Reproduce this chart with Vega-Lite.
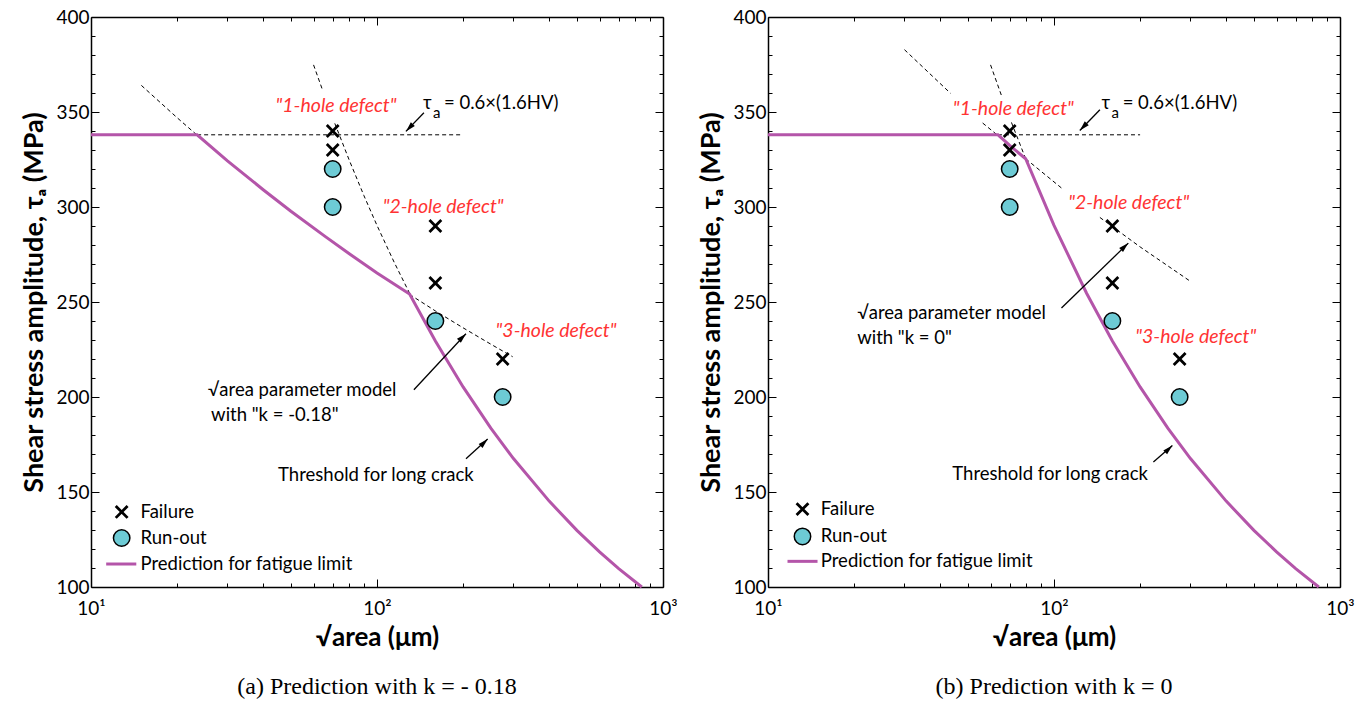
{
"$schema":"https://vega.github.io/schema/vega-lite/v6.json",
"padding":{"left":20,"top":8,"right":5,"bottom":5},
"spacing":105,
"bounds":"flush",
"config":{"font":"Lato","view":{"stroke":null},"axis":{"grid":false}},
"datasets":{
"curves":[
{"p":"a","s":"pred","g":"ap","x":10,"y":338},{"p":"a","s":"pred","g":"ap","x":23.5,"y":338},{"p":"a","s":"pred","g":"ap","x":30,"y":324.3},{"p":"a","s":"pred","g":"ap","x":40,"y":309.1},{"p":"a","s":"pred","g":"ap","x":50,"y":297.8},{"p":"a","s":"pred","g":"ap","x":66,"y":284.4},{"p":"a","s":"pred","g":"ap","x":80,"y":275.4},{"p":"a","s":"pred","g":"ap","x":100,"y":265.3},{"p":"a","s":"pred","g":"ap","x":130,"y":254.2},{"p":"a","s":"pred","g":"ap","x":160,"y":229.5},{"p":"a","s":"pred","g":"ap","x":200,"y":205.3},{"p":"a","s":"pred","g":"ap","x":250,"y":183.6},{"p":"a","s":"pred","g":"ap","x":300,"y":167.6},{"p":"a","s":"pred","g":"ap","x":400,"y":145.2},{"p":"a","s":"pred","g":"ap","x":500,"y":129.8},{"p":"a","s":"pred","g":"ap","x":600,"y":118.5},{"p":"a","s":"pred","g":"ap","x":700,"y":109.7},{"p":"a","s":"pred","g":"ap","x":843,"y":100},
{"p":"a","s":"pred","g":"al","x":11.3,"y":112.1},{"p":"a","s":"pred","g":"al","x":14.4,"y":112.1},
{"p":"a","s":"dash","g":"ad1","x":15,"y":364},{"p":"a","s":"dash","g":"ad1","x":20,"y":347},{"p":"a","s":"dash","g":"ad1","x":23.5,"y":337.8},
{"p":"a","s":"dash","g":"ah","x":23.5,"y":338},{"p":"a","s":"dash","g":"ah","x":200,"y":338},
{"p":"a","s":"dash","g":"alc1","x":60,"y":374.8},{"p":"a","s":"dash","g":"alc1","x":64.7,"y":361},
{"p":"a","s":"dash","g":"alc2","x":71.2,"y":344},{"p":"a","s":"dash","g":"alc2","x":80,"y":324.6},{"p":"a","s":"dash","g":"alc2","x":90,"y":306},{"p":"a","s":"dash","g":"alc2","x":100,"y":290.3},{"p":"a","s":"dash","g":"alc2","x":115,"y":270.7},{"p":"a","s":"dash","g":"alc2","x":130,"y":254.6},
{"p":"a","s":"dash","g":"ak2","x":130,"y":254},{"p":"a","s":"dash","g":"ak2","x":160,"y":245.3},{"p":"a","s":"dash","g":"ak2","x":200,"y":236.4},{"p":"a","s":"dash","g":"ak2","x":250,"y":227.8},{"p":"a","s":"dash","g":"ak2","x":298,"y":221.2},
{"p":"b","s":"pred","g":"bp","x":10,"y":338},{"p":"b","s":"pred","g":"bp","x":63.7,"y":338},{"p":"b","s":"pred","g":"bp","x":70,"y":332.4},{"p":"b","s":"pred","g":"bp","x":79.6,"y":325.4},{"p":"b","s":"pred","g":"bp","x":100,"y":290.3},{"p":"b","s":"pred","g":"bp","x":130,"y":254.6},{"p":"b","s":"pred","g":"bp","x":160,"y":229.5},{"p":"b","s":"pred","g":"bp","x":200,"y":205.3},{"p":"b","s":"pred","g":"bp","x":250,"y":183.6},{"p":"b","s":"pred","g":"bp","x":300,"y":167.6},{"p":"b","s":"pred","g":"bp","x":400,"y":145.2},{"p":"b","s":"pred","g":"bp","x":500,"y":129.8},{"p":"b","s":"pred","g":"bp","x":600,"y":118.5},{"p":"b","s":"pred","g":"bp","x":700,"y":109.7},{"p":"b","s":"pred","g":"bp","x":843,"y":100},
{"p":"b","s":"pred","g":"bl","x":11.7,"y":113.5},{"p":"b","s":"pred","g":"bl","x":14.9,"y":113.5},
{"p":"b","s":"dash","g":"bk1","x":30,"y":382.8},{"p":"b","s":"dash","g":"bk1","x":43.5,"y":359.8},
{"p":"b","s":"dash","g":"bk2","x":56.3,"y":344.2},{"p":"b","s":"dash","g":"bk2","x":63.7,"y":337.6},{"p":"b","s":"dash","g":"bk2","x":79.6,"y":325.4},{"p":"b","s":"dash","g":"bk2","x":107.6,"y":309.3},
{"p":"b","s":"dash","g":"bk3","x":144.7,"y":294.5},{"p":"b","s":"dash","g":"bk3","x":200,"y":279},{"p":"b","s":"dash","g":"bk3","x":299,"y":261},
{"p":"b","s":"dash","g":"bh","x":63.7,"y":338},{"p":"b","s":"dash","g":"bh","x":200,"y":338},
{"p":"b","s":"dash","g":"blc1","x":60,"y":374.8},{"p":"b","s":"dash","g":"blc1","x":65.5,"y":358.7},
{"p":"b","s":"dash","g":"blc2","x":71,"y":344.5},{"p":"b","s":"dash","g":"blc2","x":79.6,"y":325.4}
],
"arrows":[
{"p":"a","g":"at","x":145.9,"y":349.6},{"p":"a","g":"at","x":126.2,"y":339.8,"h":"dl"},
{"p":"a","g":"am","x":134.6,"y":203.8},{"p":"a","g":"am","x":204.7,"y":233.3,"h":"ur"},
{"p":"a","g":"ath","x":204.7,"y":167.5},{"p":"a","g":"ath","x":243.8,"y":177.9,"h":"ur"},
{"p":"b","g":"bt","x":144.7,"y":351.2},{"p":"b","g":"bt","x":123.1,"y":340.3,"h":"dl"},
{"p":"b","g":"bm","x":106.2,"y":246.8},{"p":"b","g":"bm","x":181.9,"y":281,"h":"ur"},
{"p":"b","g":"bth","x":222.6,"y":165.8},{"p":"b","g":"bth","x":259.4,"y":174.5,"h":"ur"}
],
"pts":[
{"p":"a","t":"Failure","x":70,"y":340},{"p":"a","t":"Failure","x":70,"y":330},{"p":"a","t":"Failure","x":160,"y":290},{"p":"a","t":"Failure","x":160,"y":260},{"p":"a","t":"Failure","x":275,"y":220},
{"p":"a","t":"Run-out","x":70,"y":320},{"p":"a","t":"Run-out","x":70,"y":300},{"p":"a","t":"Run-out","x":160,"y":240},{"p":"a","t":"Run-out","x":275,"y":200},
{"p":"a","t":"Failure","x":12.8,"y":139.5},{"p":"a","t":"Run-out","x":12.8,"y":125.8},
{"p":"b","t":"Failure","x":70,"y":340},{"p":"b","t":"Failure","x":70,"y":330},{"p":"b","t":"Failure","x":160,"y":290},{"p":"b","t":"Failure","x":160,"y":260},{"p":"b","t":"Failure","x":275,"y":220},
{"p":"b","t":"Run-out","x":70,"y":320},{"p":"b","t":"Run-out","x":70,"y":300},{"p":"b","t":"Run-out","x":160,"y":240},{"p":"b","t":"Run-out","x":275,"y":200},
{"p":"b","t":"Failure","x":13.2,"y":141},{"p":"b","t":"Run-out","x":13.2,"y":126.6}
],
"texts":[
{"p":"a","k":"black","t":"Threshold for long crack","x":45.1,"y":159.1},
{"p":"a","k":"black","t":"√area parameter model","x":25.6,"y":203.8},
{"p":"a","k":"black","t":"with \"k = -0.18\"","x":26.3,"y":190.7},
{"p":"a","k":"black","t":"τ","x":144.8,"y":354.9},
{"p":"a","k":"black","t":"= 0.6×(1.6HV)","x":171.5,"y":354.9},
{"p":"a","k":"sub","t":"a","x":157,"y":349.6},
{"p":"a","k":"black","t":"Failure","x":14.9,"y":139.5},
{"p":"a","k":"black","t":"Run-out","x":14.9,"y":125.8},
{"p":"a","k":"black","t":"Prediction for fatigue limit","x":14.9,"y":112.1},
{"p":"a","k":"red","t":"\"1-hole defect\"","x":71.9,"y":353.3},
{"p":"a","k":"red","t":"\"2-hole defect\"","x":170.3,"y":300.2},
{"p":"a","k":"red","t":"\"3-hole defect\"","x":422.7,"y":234.9},
{"p":"b","k":"black","t":"Threshold for long crack","x":44.1,"y":159.6},
{"p":"b","k":"black","t":"√area parameter model","x":20.5,"y":244.2},
{"p":"b","k":"black","t":"with \"k = 0\"","x":20.5,"y":231.1},
{"p":"b","k":"black","t":"τ","x":146.7,"y":354.9},
{"p":"b","k":"black","t":"= 0.6×(1.6HV)","x":173.8,"y":354.9},
{"p":"b","k":"sub","t":"a","x":159,"y":349.6},
{"p":"b","k":"black","t":"Failure","x":15.3,"y":141},
{"p":"b","k":"black","t":"Run-out","x":15.3,"y":126.6},
{"p":"b","k":"black","t":"Prediction for fatigue limit","x":15.3,"y":113.5},
{"p":"b","k":"red","t":"\"1-hole defect\"","x":72.1,"y":351.7},
{"p":"b","k":"red","t":"\"2-hole defect\"","x":182.4,"y":302},
{"p":"b","k":"red","t":"\"3-hole defect\"","x":313,"y":231.5}
]
},
"hconcat":[
{"width":572,"height":570,
"title":{"text":"(a) Prediction with k = - 0.18","orient":"bottom","font":"Liberation Serif","fontSize":24,"fontWeight":"normal","color":"black","offset":25},
"resolve":{"axis":{"x":"independent","y":"independent"}},
"layer":[
{"data":{"name":"curves"},"transform":[{"filter":"datum.p=='a' && datum.s=='dash'"}],"mark":{"type":"line","color":"black","strokeWidth":1,"strokeDash":[4,3]},"encoding":{"x":{"field":"x","type":"quantitative","scale":{"type":"log","domain":[10,1000]},"axis":null},"y":{"field":"y","type":"quantitative","scale":{"domain":[100,400]},"axis":null},"detail":{"field":"g"}}},
{"data":{"name":"curves"},"transform":[{"filter":"datum.p=='a' && datum.s=='pred'"}],"mark":{"type":"line","color":"#B455A9","strokeWidth":3},"encoding":{
"x":{"field":"x","type":"quantitative","scale":{"type":"log","domain":[10,1000]},"axis":{"orient":"bottom","values":[10,20,30,40,50,60,70,80,90,100,200,300,400,500,600,700,800,900,1000],"labelExpr":"datum.value==10?'10¹':datum.value==100?'10²':datum.value==1000?'10³':''","tickSize":{"condition":{"test":"datum.value==10||datum.value==100||datum.value==1000","value":-8},"value":-4},"tickColor":"black","domainColor":"black","domainWidth":1.5,"labelFontSize":19,"labelColor":"black","labelPadding":20,"labelOverlap":false,"labelFlush":false,"title":"√area (μm)","titleFontSize":26,"titleFontWeight":"bold","titleColor":"black","titlePadding":2}},
"y":{"field":"y","type":"quantitative","scale":{"domain":[100,400]},"axis":{"orient":"left","values":[100,110,120,130,140,150,160,170,180,190,200,210,220,230,240,250,260,270,280,290,300,310,320,330,340,350,360,370,380,390,400],"labelExpr":"datum.value%50==0?datum.label:''","tickSize":{"condition":{"test":"datum.value%50==0","value":-8},"value":-4},"tickColor":"black","domainColor":"black","domainWidth":1.5,"labelFontSize":19,"labelColor":"black","labelPadding":10,"labelOverlap":false,"labelFlush":false,"title":"Shear stress amplitude, τₐ (MPa)","titleFontSize":27,"titleFontWeight":"bold","titleColor":"black","titlePadding":7}},
"detail":{"field":"g"}}},
{"data":{"name":"arrows"},"transform":[{"filter":"datum.p=='a'"}],"mark":{"type":"line","color":"black","strokeWidth":1.3},"encoding":{"x":{"field":"x","type":"quantitative","scale":{"type":"log","domain":[10,1000]},"axis":null},"y":{"field":"y","type":"quantitative","scale":{"domain":[100,400]},"axis":null},"detail":{"field":"g"}}},
{"data":{"name":"arrows"},"transform":[{"filter":"datum.p=='a' && datum.h=='ur'"}],"mark":{"type":"point","shape":"M0,0L0.55,2L-0.55,2Z","filled":true,"color":"black","size":100,"opacity":1,"angle":45},"encoding":{"x":{"field":"x","type":"quantitative","scale":{"type":"log","domain":[10,1000]},"axis":null},"y":{"field":"y","type":"quantitative","scale":{"domain":[100,400]},"axis":null}}},
{"data":{"name":"arrows"},"transform":[{"filter":"datum.p=='a' && datum.h=='dl'"}],"mark":{"type":"point","shape":"M0,0L0.55,2L-0.55,2Z","filled":true,"color":"black","size":100,"opacity":1,"angle":224},"encoding":{"x":{"field":"x","type":"quantitative","scale":{"type":"log","domain":[10,1000]},"axis":null},"y":{"field":"y","type":"quantitative","scale":{"domain":[100,400]},"axis":null}}},
{"data":{"name":"pts"},"transform":[{"filter":"datum.p=='a' && datum.t=='Run-out'"}],"mark":{"type":"point","shape":"circle","filled":true,"fill":"#6DCBD5","stroke":"black","strokeWidth":1.5,"size":270,"opacity":1},"encoding":{"x":{"field":"x","type":"quantitative","scale":{"type":"log","domain":[10,1000]},"axis":null},"y":{"field":"y","type":"quantitative","scale":{"domain":[100,400]},"axis":null}}},
{"data":{"name":"pts"},"transform":[{"filter":"datum.p=='a' && datum.t=='Failure'"}],"mark":{"type":"point","shape":"M-1,-1L1,1M-1,1L1,-1","filled":false,"stroke":"black","strokeWidth":2.8,"size":140,"opacity":1},"encoding":{
"x":{"field":"x","type":"quantitative","scale":{"type":"log","domain":[10,1000]},"axis":{"orient":"top","values":[10,20,30,40,50,60,70,80,90,100,200,300,400,500,600,700,800,900,1000],"labels":false,"tickSize":{"condition":{"test":"datum.value==10||datum.value==100||datum.value==1000","value":-8},"value":-4},"tickColor":"black","domainColor":"black","domainWidth":1.5,"title":null}},
"y":{"field":"y","type":"quantitative","scale":{"domain":[100,400]},"axis":{"orient":"right","values":[100,110,120,130,140,150,160,170,180,190,200,210,220,230,240,250,260,270,280,290,300,310,320,330,340,350,360,370,380,390,400],"labels":false,"tickSize":{"condition":{"test":"datum.value%50==0","value":-8},"value":-4},"tickColor":"black","domainColor":"black","domainWidth":1.5,"title":null}}}},
{"data":{"name":"texts"},"transform":[{"filter":"datum.p=='a' && datum.k=='black'"}],"mark":{"type":"text","align":"left","baseline":"middle","fontSize":18.5,"color":"black"},"encoding":{"x":{"field":"x","type":"quantitative","scale":{"type":"log","domain":[10,1000]},"axis":null},"y":{"field":"y","type":"quantitative","scale":{"domain":[100,400]},"axis":null},"text":{"field":"t"}}},
{"data":{"name":"texts"},"transform":[{"filter":"datum.p=='a' && datum.k=='sub'"}],"mark":{"type":"text","align":"left","baseline":"middle","fontSize":15,"color":"black"},"encoding":{"x":{"field":"x","type":"quantitative","scale":{"type":"log","domain":[10,1000]},"axis":null},"y":{"field":"y","type":"quantitative","scale":{"domain":[100,400]},"axis":null},"text":{"field":"t"}}},
{"data":{"name":"texts"},"transform":[{"filter":"datum.p=='a' && datum.k=='red'"}],"mark":{"type":"text","align":"center","baseline":"middle","fontSize":19.5,"fontStyle":"italic","color":"#FF3333"},"encoding":{"x":{"field":"x","type":"quantitative","scale":{"type":"log","domain":[10,1000]},"axis":null},"y":{"field":"y","type":"quantitative","scale":{"domain":[100,400]},"axis":null},"text":{"field":"t"}}}
]},
{"width":572,"height":570,
"title":{"text":"(b) Prediction with k = 0","orient":"bottom","font":"Liberation Serif","fontSize":24,"fontWeight":"normal","color":"black","offset":25},
"resolve":{"axis":{"x":"independent","y":"independent"}},
"layer":[
{"data":{"name":"curves"},"transform":[{"filter":"datum.p=='b' && datum.s=='dash'"}],"mark":{"type":"line","color":"black","strokeWidth":1,"strokeDash":[4,3]},"encoding":{"x":{"field":"x","type":"quantitative","scale":{"type":"log","domain":[10,1000]},"axis":null},"y":{"field":"y","type":"quantitative","scale":{"domain":[100,400]},"axis":null},"detail":{"field":"g"}}},
{"data":{"name":"curves"},"transform":[{"filter":"datum.p=='b' && datum.s=='pred'"}],"mark":{"type":"line","color":"#B455A9","strokeWidth":3},"encoding":{
"x":{"field":"x","type":"quantitative","scale":{"type":"log","domain":[10,1000]},"axis":{"orient":"bottom","values":[10,20,30,40,50,60,70,80,90,100,200,300,400,500,600,700,800,900,1000],"labelExpr":"datum.value==10?'10¹':datum.value==100?'10²':datum.value==1000?'10³':''","tickSize":{"condition":{"test":"datum.value==10||datum.value==100||datum.value==1000","value":-8},"value":-4},"tickColor":"black","domainColor":"black","domainWidth":1.5,"labelFontSize":19,"labelColor":"black","labelPadding":20,"labelOverlap":false,"labelFlush":false,"title":"√area (μm)","titleFontSize":26,"titleFontWeight":"bold","titleColor":"black","titlePadding":2}},
"y":{"field":"y","type":"quantitative","scale":{"domain":[100,400]},"axis":{"orient":"left","values":[100,110,120,130,140,150,160,170,180,190,200,210,220,230,240,250,260,270,280,290,300,310,320,330,340,350,360,370,380,390,400],"labelExpr":"datum.value%50==0?datum.label:''","tickSize":{"condition":{"test":"datum.value%50==0","value":-8},"value":-4},"tickColor":"black","domainColor":"black","domainWidth":1.5,"labelFontSize":19,"labelColor":"black","labelPadding":10,"labelOverlap":false,"labelFlush":false,"title":"Shear stress amplitude, τₐ (MPa)","titleFontSize":27,"titleFontWeight":"bold","titleColor":"black","titlePadding":7}},
"detail":{"field":"g"}}},
{"data":{"name":"arrows"},"transform":[{"filter":"datum.p=='b'"}],"mark":{"type":"line","color":"black","strokeWidth":1.3},"encoding":{"x":{"field":"x","type":"quantitative","scale":{"type":"log","domain":[10,1000]},"axis":null},"y":{"field":"y","type":"quantitative","scale":{"domain":[100,400]},"axis":null},"detail":{"field":"g"}}},
{"data":{"name":"arrows"},"transform":[{"filter":"datum.p=='b' && datum.h=='ur'"}],"mark":{"type":"point","shape":"M0,0L0.55,2L-0.55,2Z","filled":true,"color":"black","size":100,"opacity":1,"angle":46},"encoding":{"x":{"field":"x","type":"quantitative","scale":{"type":"log","domain":[10,1000]},"axis":null},"y":{"field":"y","type":"quantitative","scale":{"domain":[100,400]},"axis":null}}},
{"data":{"name":"arrows"},"transform":[{"filter":"datum.p=='b' && datum.h=='dl'"}],"mark":{"type":"point","shape":"M0,0L0.55,2L-0.55,2Z","filled":true,"color":"black","size":100,"opacity":1,"angle":224},"encoding":{"x":{"field":"x","type":"quantitative","scale":{"type":"log","domain":[10,1000]},"axis":null},"y":{"field":"y","type":"quantitative","scale":{"domain":[100,400]},"axis":null}}},
{"data":{"name":"pts"},"transform":[{"filter":"datum.p=='b' && datum.t=='Run-out'"}],"mark":{"type":"point","shape":"circle","filled":true,"fill":"#6DCBD5","stroke":"black","strokeWidth":1.5,"size":270,"opacity":1},"encoding":{"x":{"field":"x","type":"quantitative","scale":{"type":"log","domain":[10,1000]},"axis":null},"y":{"field":"y","type":"quantitative","scale":{"domain":[100,400]},"axis":null}}},
{"data":{"name":"pts"},"transform":[{"filter":"datum.p=='b' && datum.t=='Failure'"}],"mark":{"type":"point","shape":"M-1,-1L1,1M-1,1L1,-1","filled":false,"stroke":"black","strokeWidth":2.8,"size":140,"opacity":1},"encoding":{
"x":{"field":"x","type":"quantitative","scale":{"type":"log","domain":[10,1000]},"axis":{"orient":"top","values":[10,20,30,40,50,60,70,80,90,100,200,300,400,500,600,700,800,900,1000],"labels":false,"tickSize":{"condition":{"test":"datum.value==10||datum.value==100||datum.value==1000","value":-8},"value":-4},"tickColor":"black","domainColor":"black","domainWidth":1.5,"title":null}},
"y":{"field":"y","type":"quantitative","scale":{"domain":[100,400]},"axis":{"orient":"right","values":[100,110,120,130,140,150,160,170,180,190,200,210,220,230,240,250,260,270,280,290,300,310,320,330,340,350,360,370,380,390,400],"labels":false,"tickSize":{"condition":{"test":"datum.value%50==0","value":-8},"value":-4},"tickColor":"black","domainColor":"black","domainWidth":1.5,"title":null}}}},
{"data":{"name":"texts"},"transform":[{"filter":"datum.p=='b' && datum.k=='black'"}],"mark":{"type":"text","align":"left","baseline":"middle","fontSize":18.5,"color":"black"},"encoding":{"x":{"field":"x","type":"quantitative","scale":{"type":"log","domain":[10,1000]},"axis":null},"y":{"field":"y","type":"quantitative","scale":{"domain":[100,400]},"axis":null},"text":{"field":"t"}}},
{"data":{"name":"texts"},"transform":[{"filter":"datum.p=='b' && datum.k=='sub'"}],"mark":{"type":"text","align":"left","baseline":"middle","fontSize":15,"color":"black"},"encoding":{"x":{"field":"x","type":"quantitative","scale":{"type":"log","domain":[10,1000]},"axis":null},"y":{"field":"y","type":"quantitative","scale":{"domain":[100,400]},"axis":null},"text":{"field":"t"}}},
{"data":{"name":"texts"},"transform":[{"filter":"datum.p=='b' && datum.k=='red'"}],"mark":{"type":"text","align":"center","baseline":"middle","fontSize":19.5,"fontStyle":"italic","color":"#FF3333"},"encoding":{"x":{"field":"x","type":"quantitative","scale":{"type":"log","domain":[10,1000]},"axis":null},"y":{"field":"y","type":"quantitative","scale":{"domain":[100,400]},"axis":null},"text":{"field":"t"}}}
]}
]
}
